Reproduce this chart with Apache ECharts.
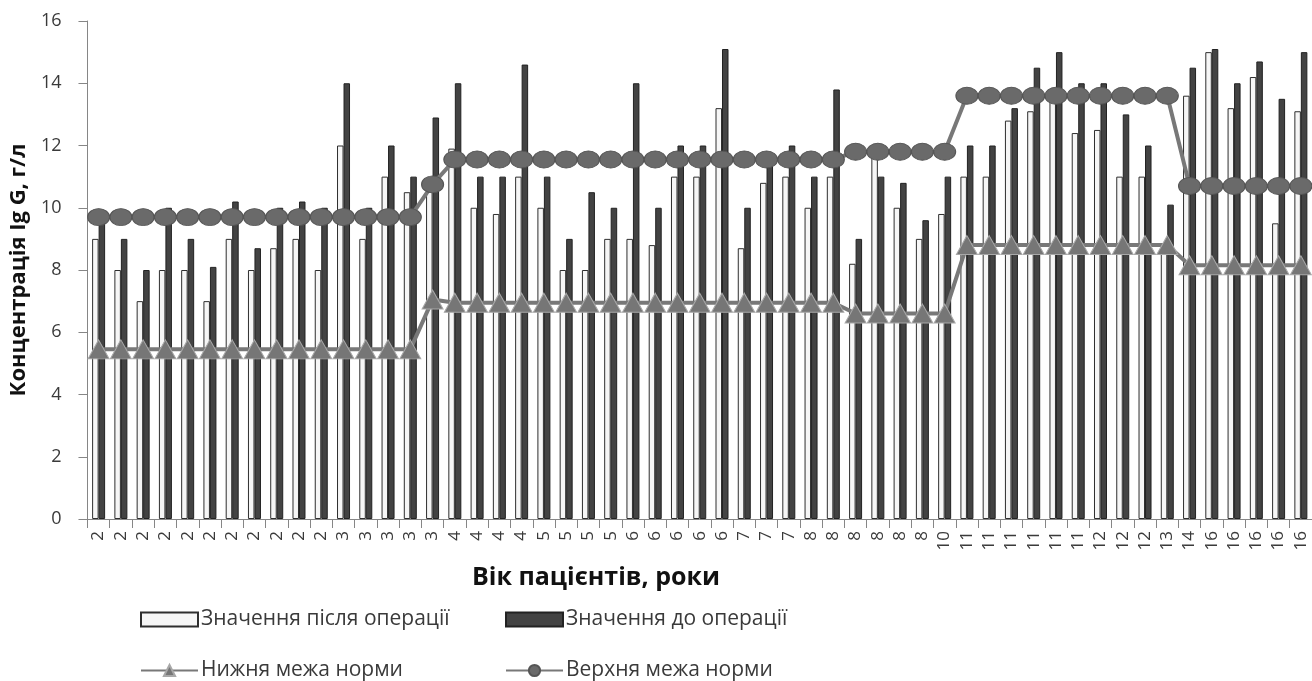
<!DOCTYPE html>
<html>
<head>
<meta charset="utf-8">
<script src="https://cdn.jsdelivr.net/npm/echarts@6/dist/echarts.min.js"></script>
<style>
  html, body { margin: 0; padding: 0; background: #ffffff; }
  #chart { width: 1312px; height: 681px; }
</style>
</head>
<body>
<div id="chart"></div>
<script>
// Category labels: patient age, years
const ages = ['2','2','2','2','2','2','2','2','2','2','2',
  '3','3','3','3','3',
  '4','4','4','4',
  '5','5','5','5',
  '6','6','6','6','6',
  '7','7','7',
  '8','8','8','8','8','8',
  '10',
  '11','11','11','11','11','11',
  '12','12','12',
  '13','14',
  '16','16','16','16','16'];

// Values after the operation (light bars)
const afterOp = [9.0, 8.0, 7.0, 8.0, 8.0, 7.0, 9.0, 8.0, 8.7, 9.0, 8.0,
  12.0, 9.0, 11.0, 10.5, 10.6,
  11.9, 10.0, 9.8, 11.0,
  10.0, 8.0, 8.0, 9.0,
  9.0, 8.8, 11.0, 11.0, 13.2,
  8.7, 10.8, 11.0,
  10.0, 11.0, 8.2, 11.7, 10.0, 9.0,
  9.8,
  11.0, 11.0, 12.8, 13.1, 13.5, 12.4,
  12.5, 11.0, 11.0,
  8.7, 13.6,
  15.0, 13.2, 14.2, 9.5, 13.1];

// Values before the operation (dark bars)
const beforeOp = [9.8, 9.0, 8.0, 10.0, 9.0, 8.1, 10.2, 8.7, 10.0, 10.2, 10.0,
  14.0, 10.0, 12.0, 11.0, 12.9,
  14.0, 11.0, 11.0, 14.6,
  11.0, 9.0, 10.5, 10.0,
  14.0, 10.0, 12.0, 12.0, 15.1,
  10.0, 11.4, 12.0,
  11.0, 13.8, 9.0, 11.0, 10.8, 9.6,
  11.0,
  12.0, 12.0, 13.2, 14.5, 15.0, 14.0,
  14.0, 13.0, 12.0,
  10.1, 14.5,
  15.1, 14.0, 14.7, 13.5, 15.0];

// Lower limit of normal
const lowerNorm = [5.45, 5.45, 5.45, 5.45, 5.45, 5.45, 5.45, 5.45, 5.45, 5.45, 5.45,
  5.45, 5.45, 5.45, 5.45, 7.05,
  6.95, 6.95, 6.95, 6.95,
  6.95, 6.95, 6.95, 6.95,
  6.95, 6.95, 6.95, 6.95, 6.95,
  6.95, 6.95, 6.95,
  6.95, 6.95, 6.6, 6.6, 6.6, 6.6,
  6.6,
  8.8, 8.8, 8.8, 8.8, 8.8, 8.8,
  8.8, 8.8, 8.8,
  8.8, 8.15,
  8.15, 8.15, 8.15, 8.15, 8.15];

// Upper limit of normal
const upperNorm = [9.7, 9.7, 9.7, 9.7, 9.7, 9.7, 9.7, 9.7, 9.7, 9.7, 9.7,
  9.7, 9.7, 9.7, 9.7, 10.75,
  11.55, 11.55, 11.55, 11.55,
  11.55, 11.55, 11.55, 11.55,
  11.55, 11.55, 11.55, 11.55, 11.55,
  11.55, 11.55, 11.55,
  11.55, 11.55, 11.8, 11.8, 11.8, 11.8,
  11.8,
  13.6, 13.6, 13.6, 13.6, 13.6, 13.6,
  13.6, 13.6, 13.6,
  13.6, 10.7,
  10.7, 10.7, 10.7, 10.7, 10.7];

const yTicks = { min: 0, max: 16, interval: 2 };

const names = {
  after: 'Значення після операції',
  before: 'Значення до операції',
  lower: 'Нижня межа норми',
  upper: 'Верхня межа норми'
};

const FONT = "'Open Sans', 'DejaVu Sans', sans-serif";
const TXT = '#3a3a3a';
const AXIS = '#868686';

const chart = echarts.init(document.getElementById('chart'), null, { renderer: 'canvas' });

const legendBase = {
  orient: 'horizontal',
  itemWidth: 57,
  itemHeight: 14,
  itemGap: 0,
  padding: 0,
  textStyle: { fontFamily: FONT, fontSize: 21, color: TXT, padding: [0, 0, 0, -2] },
  selectedMode: false
};

chart.setOption({
  animation: false,
  backgroundColor: '#ffffff',
  textStyle: { fontFamily: FONT },
  grid: { left: 81, right: 0, top: 21, bottom: 162, containLabel: false },
  legend: [
    Object.assign({}, legendBase, { data: [{ name: names.after, icon: 'rect' }], left: 140, top: 609 }),
    Object.assign({}, legendBase, { data: [{ name: names.before, icon: 'rect' }], left: 505, top: 609 }),
    Object.assign({}, legendBase, { data: [names.lower], left: 140, top: 660 }),
    Object.assign({}, legendBase, { data: [names.upper], left: 505, top: 660 })
  ],
  graphic: [{
    type: 'text',
    x: 596,
    y: 578,
    style: {
      text: 'Вік пацієнтів, роки',
      font: "bold 25px 'Open Sans', 'DejaVu Sans', sans-serif",
      fill: '#111111',
      align: 'center',
      verticalAlign: 'middle'
    }
  }],
  xAxis: {
    type: 'category',
    data: ages,
    boundaryGap: true,
    axisLine: { show: true, lineStyle: { color: AXIS, width: 1 } },
    axisTick: { show: true, interval: 0, length: 9, alignWithLabel: false, lineStyle: { color: AXIS } },
    axisLabel: {
      interval: 0, rotate: 90, margin: 12,
      fontFamily: FONT, fontSize: 17, color: TXT
    },
    splitLine: { show: false }
  },
  yAxis: {
    type: 'value',
    min: yTicks.min, max: yTicks.max, interval: yTicks.interval,
    name: 'Концентрація Ig G, г/л',
    nameLocation: 'middle',
    nameRotate: 90,
    nameGap: 50,
    nameTextStyle: { fontFamily: FONT, fontSize: 22, fontWeight: 'bold', color: '#111111' },
    axisLine: { show: true, lineStyle: { color: AXIS, width: 1 } },
    axisTick: { show: true, length: 9, lineStyle: { color: AXIS } },
    axisLabel: { margin: 26, fontFamily: FONT, fontSize: 18, color: TXT },
    splitLine: { show: false }
  },
  series: [
    {
      name: names.after,
      type: 'bar',
      data: afterOp,
      barWidth: 6.5,
      barGap: '0%',
      itemStyle: { color: '#f6f6f6', borderColor: '#2e2e2e', borderWidth: 1 },
      z: 2
    },
    {
      name: names.before,
      type: 'bar',
      data: beforeOp,
      barWidth: 6.5,
      barGap: '0%',
      itemStyle: { color: '#434343', borderColor: '#222222', borderWidth: 1 },
      z: 2
    },
    {
      name: names.lower,
      type: 'line',
      data: lowerNorm,
      symbol: 'triangle',
      symbolSize: [21, 19],
      lineStyle: { color: '#787878', width: 4 },
      itemStyle: { color: '#767676', borderColor: '#a8a8a8', borderWidth: 1 },
      z: 5
    },
    {
      name: names.upper,
      type: 'line',
      data: upperNorm,
      symbol: 'circle',
      symbolSize: [22, 17],
      lineStyle: { color: '#787878', width: 4 },
      itemStyle: { color: '#6a6a6a', borderColor: '#555555', borderWidth: 1 },
      z: 6
    }
  ]
});
</script>
</body>
</html>
